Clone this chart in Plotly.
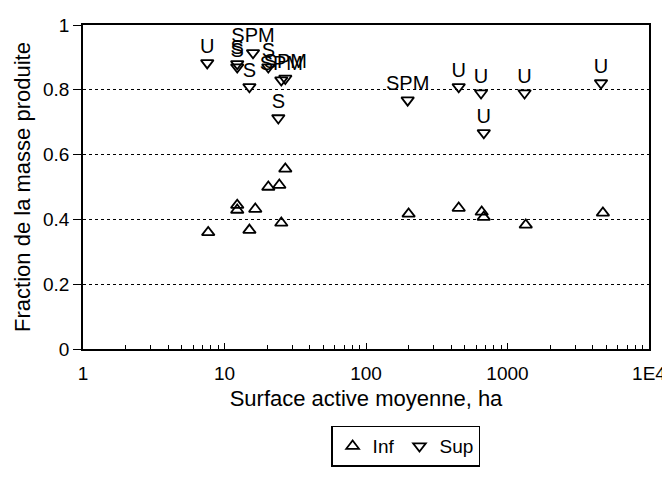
import plotly.graph_objects as go

# Data
inf_x = [7.67, 12.3, 12.3, 15.0, 16.5, 20.4, 24.4, 25.2, 26.9, 200, 452, 657, 679, 1346, 4724]
inf_y = [0.36, 0.444, 0.429, 0.367, 0.432, 0.50, 0.506, 0.389, 0.556, 0.417, 0.435, 0.423, 0.407, 0.383, 0.42]

sup_x = [7.55, 12.3, 12.3, 15.0, 15.9, 20.4, 24.0, 25.2, 26.9, 197, 452, 650, 680, 1320, 4580]
sup_y = [0.883, 0.88, 0.87, 0.809, 0.914, 0.87, 0.713, 0.83, 0.835, 0.768, 0.809, 0.79, 0.667, 0.79, 0.821]
sup_lab = ["U", "S", "S", "S", "SPM", "S", "S", "SPM", "SPM", "SPM", "U", "U", "U", "U", "U"]

x_tickvals = [1, 10, 100, 1000, 10000]
x_ticktext = ["1", "10", "100", "1000", "1E4"]
y_tickvals = [0, 0.2, 0.4, 0.6, 0.8, 1]
y_ticktext = ["0", "0.2", "0.4", "0.6", "0.8", "1"]

FONT = "Liberation Sans, Arial, sans-serif"

fig = go.Figure()
fig.add_trace(go.Scatter(
    x=inf_x, y=inf_y, mode="markers", name="Inf",
    marker=dict(symbol="triangle-up-open", size=11, color="black", line=dict(width=1.8, color="black")),
))
fig.add_trace(go.Scatter(
    x=sup_x, y=sup_y, mode="markers", name="Sup",
    marker=dict(symbol="triangle-down-open", size=11, color="black", line=dict(width=1.8, color="black")),
))
fig.add_trace(go.Scatter(
    x=sup_x, y=sup_y, mode="markers+text", text=sup_lab, textposition="top center",
    showlegend=False, hoverinfo="skip",
    marker=dict(size=7, opacity=0),
    textfont=dict(family=FONT, size=20, color="black"),
))

minor_vals = [m * 10 ** d for d in range(0, 4) for m in range(2, 10)]

# The page body adds an 8px margin; the figure is sized so the plot lands where the reference has it.
fig.update_layout(
    width=662, height=495,
    margin=dict(l=75, r=21, t=17, b=154, autoexpand=False),
    paper_bgcolor="white", plot_bgcolor="white",
    font=dict(family=FONT, size=19, color="black"),
    showlegend=True,
    legend=dict(
        orientation="h", x=0.57, y=-0.30, xanchor="center", yanchor="middle",
        bordercolor="black", borderwidth=1.5, bgcolor="white",
        font=dict(family=FONT, size=19, color="black"),
        itemwidth=30,
    ),
    xaxis=dict(
        type="log", range=[0, 4], automargin=False,
        tickvals=x_tickvals, ticktext=x_ticktext,
        ticks="inside", ticklen=6, tickcolor="black",
        minor=dict(tickvals=minor_vals, ticks="inside", ticklen=4, tickcolor="black", showgrid=False),
        showline=True, linecolor="black", linewidth=1.5, mirror=True,
        showgrid=False, zeroline=False,
        ticklabelstandoff=6, ticklabeloverflow="allow",
        title=dict(text="Surface active moyenne, ha", font=dict(family=FONT, size=22), standoff=8),
    ),
    yaxis=dict(
        range=[0, 1], automargin=False,
        tickvals=y_tickvals, ticktext=y_ticktext,
        ticks="outside", ticklen=8, tickcolor="black",
        showline=True, linecolor="black", linewidth=1.5, mirror=True,
        showgrid=True, gridcolor="black", griddash="dot", gridwidth=1,
        zeroline=False,
        title=dict(text="Fraction de la masse produite", font=dict(family=FONT, size=22), standoff=6),
    ),
)

fig.write_html("out.html")
